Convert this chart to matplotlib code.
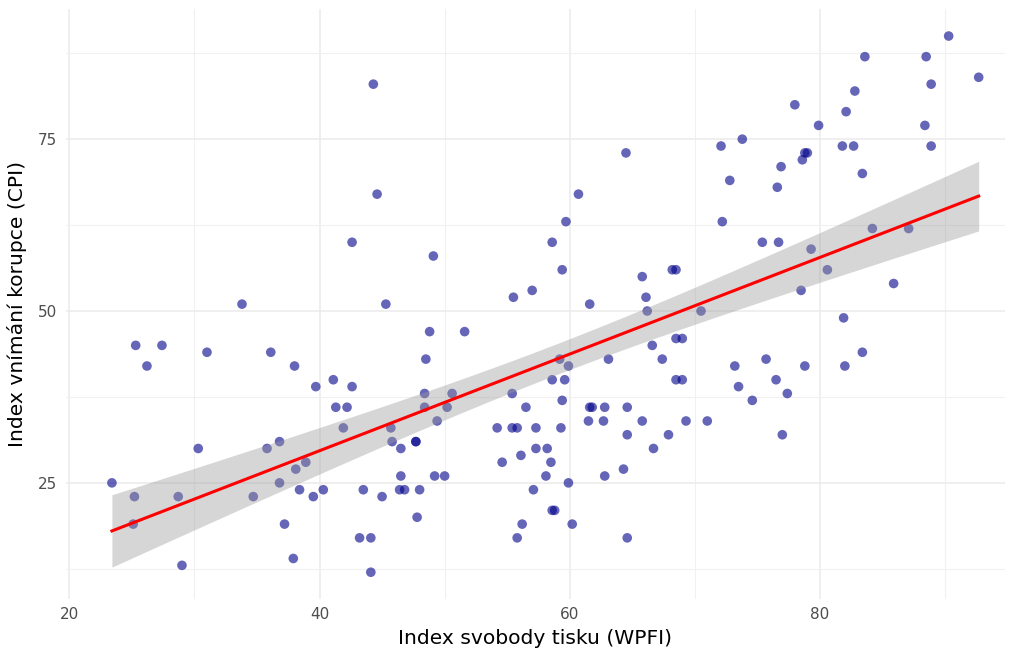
import numpy as np
import matplotlib
matplotlib.use('Agg')
from matplotlib import pyplot as plt

# WPFI (x) and CPI (y)
wpfi = [23.4,25.3,25.2,25.1,26.2,27.4,28.7,29.0,30.3,31.0,33.8,34.7,35.8,36.1,36.8,36.8,37.2,37.9,38.0,38.1,
        38.9,38.4,39.5,39.7,40.3,41.1,41.3,41.9,42.2,42.6,42.6,43.2,43.5,44.1,44.1,44.3,44.6,45.0,45.3,45.7,
        45.8,46.5,46.5,46.4,46.8,47.7,47.7,47.8,48.0,48.4,48.4,48.5,48.8,49.1,49.2,49.4,50.0,50.2,50.6,51.6,
        54.2,54.6,55.4,55.4,55.5,55.8,55.8,56.1,56.2,56.5,57.0,57.1,57.3,57.3,58.1,58.2,58.5,58.6,58.6,58.6,
        58.8,59.2,59.3,59.4,59.4,59.6,59.7,59.9,59.9,60.2,60.7,61.5,61.6,61.6,61.8,62.7,62.8,62.8,63.1,64.3,
        64.5,64.6,64.6,64.6,65.8,65.8,66.1,66.2,66.6,66.7,67.4,67.9,68.2,68.5,68.5,69.0,68.5,69.0,69.3,70.5,
        71.0,72.1,72.2,72.8,73.2,73.5,73.8,74.6,75.4,75.7,76.5,76.6,76.7,76.9,77.0,77.4,78.0,78.5,78.6,78.8,
        79.0,78.8,79.3,79.9,80.6,81.8,81.9,82.0,82.1,82.7,82.8,83.4,83.4,83.6,84.2,85.9,87.1,88.4,88.5,88.9,
        88.9,90.3,92.7]
cpi = [25,45,23,19,42,45,23,13,30,44,51,23,30,44,31,25,19,14,42,27,
       28,24,23,39,24,40,36,33,36,39,60,17,24,17,12,83,67,23,51,33,
       31,30,26,24,24,31,31,20,24,38,36,43,47,58,26,34,26,36,38,47,
       33,28,38,33,52,33,17,29,19,36,53,24,33,30,26,30,28,40,60,21,
       21,43,33,56,37,40,63,42,25,19,67,34,51,36,36,34,36,26,43,27,
       73,36,32,17,55,34,52,50,45,30,43,32,56,56,46,46,40,40,34,50,
       34,74,63,69,42,39,75,37,60,43,40,68,60,71,32,38,80,53,72,73,
       73,42,59,77,56,74,49,42,79,74,82,70,44,87,62,54,62,77,87,83,
       74,90,84]

x = np.array(wpfi)
y = np.array(cpi)

# linear fit + 95% confidence band
b, a = np.polyfit(x, y, 1)
n = len(x)
xs = np.linspace(x.min(), x.max(), 80)
ys = a + b*xs
resid = y - (a + b*x)
s = np.sqrt(np.sum(resid**2)/(n-2))
se = s*np.sqrt(1.0/n + (xs-x.mean())**2/np.sum((x-x.mean())**2))
t = 1.975

fig = plt.figure(figsize=(10.1, 6.59), dpi=100)
ax = fig.add_axes([0.065, 0.091, 0.93, 0.895])

ax.scatter(x, y, s=48, color='darkblue', alpha=0.6, edgecolors='none', zorder=3)
ax.fill_between(xs, ys-t*se, ys+t*se, color='#999999', alpha=0.4, linewidth=0, zorder=4)
ax.plot(xs, ys, color='red', linewidth=2.2, zorder=5)

ax.set_xlim(19.7, 94.8)
ax.set_ylim(8.1, 93.9)
ax.set_xticks([20, 40, 60, 80])
ax.set_yticks([25, 50, 75])
ax.set_xticks([30, 50, 70, 90], minor=True)
ax.set_yticks([12.5, 37.5, 62.5, 87.5], minor=True)
ax.grid(True, which='major', color='#EBEBEB', linewidth=1.1)
ax.grid(True, which='minor', color='#F1F1F1', linewidth=0.8)
ax.set_axisbelow(True)
for sp in ax.spines.values():
    sp.set_visible(False)
ax.tick_params(which='both', length=0, labelsize=11, labelcolor='#4D4D4D', pad=6)

ax.set_xlabel('Index svobody tisku (WPFI)', fontsize=14.6, labelpad=5)
ax.set_ylabel('Index vnímání korupce (CPI)', fontsize=14.6, labelpad=8)

plt.savefig('out.png', dpi=100)
